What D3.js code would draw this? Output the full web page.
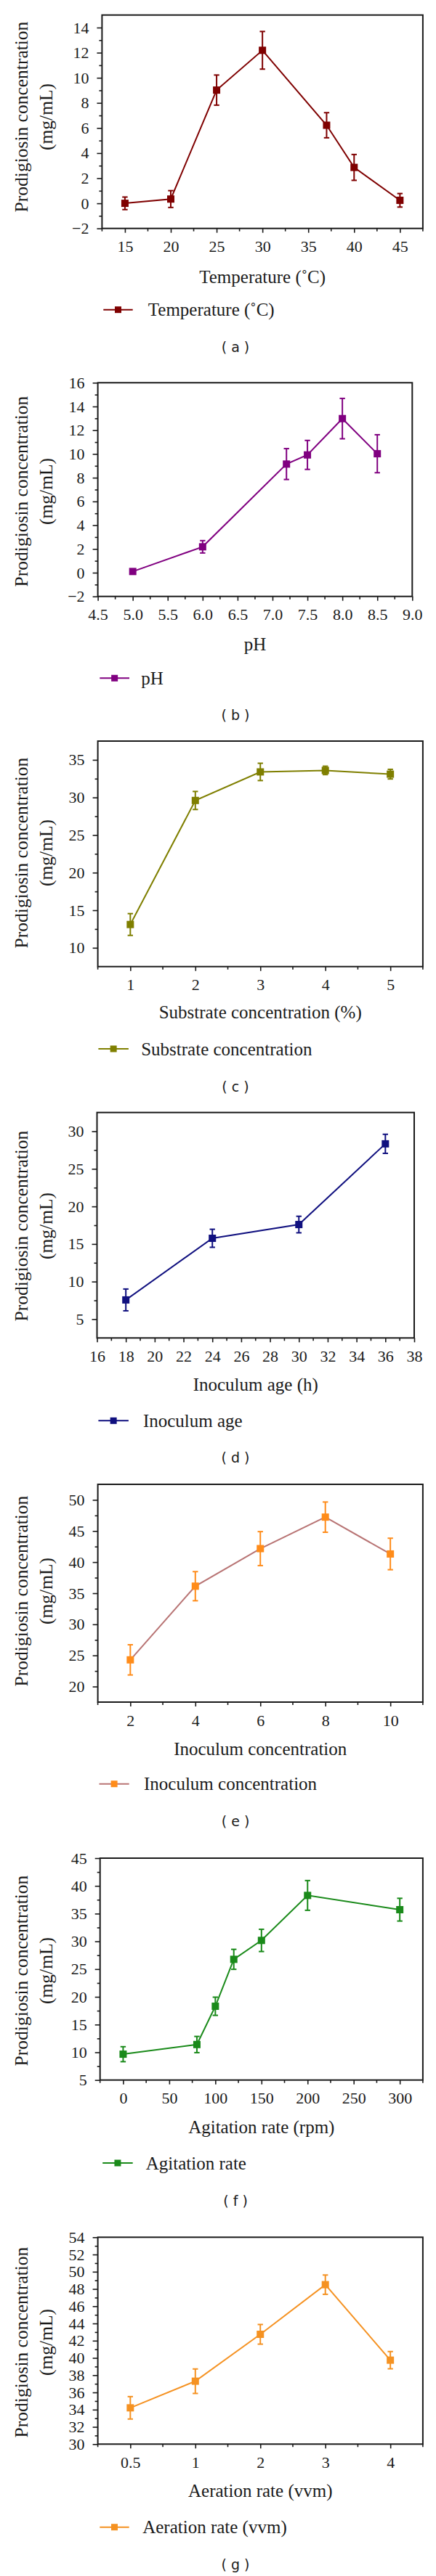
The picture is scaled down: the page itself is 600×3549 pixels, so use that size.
<!DOCTYPE html>
<html><head><meta charset="utf-8">
<script src="https://cdn.jsdelivr.net/npm/d3@7"></script>
<style>
body{margin:0;background:#fff}
svg text{font-family:"Liberation Serif","Times New Roman",serif;fill:#1a1a1a}
</style>
</head><body>
<svg id="c" width="600" height="3549"></svg>
<script>
// ---------------- DATA ----------------
// (a) Temperature
const tempX = [15, 20, 25, 30, 37, 40, 45];
const tempY = [0.0, 0.34, 9.02, 12.19, 6.22, 2.86, 0.24];
const tempErr = [0.5, 0.67, 1.2, 1.5, 1.0, 1.03, 0.54];
const tempXTicks = [15, 20, 25, 30, 35, 40, 45];
const tempYTicks = [-2, 0, 2, 4, 6, 8, 10, 12, 14];
// (b) pH
const phX = [5.0, 6.0, 7.2, 7.5, 8.0, 8.5];
const phY = [0.1, 2.18, 9.15, 9.92, 12.98, 10.02];
const phErr = [0, 0.52, 1.3, 1.22, 1.7, 1.6];
const phXTicks = [4.5, 5.0, 5.5, 6.0, 6.5, 7.0, 7.5, 8.0, 8.5, 9.0];
const phYTicks = [-2, 0, 2, 4, 6, 8, 10, 12, 14, 16];
// (c) Substrate concentration
const subX = [1, 2, 3, 4, 5];
const subY = [13.1, 29.6, 33.4, 33.6, 33.1];
const subErr = [1.45, 1.2, 1.15, 0.56, 0.64];
const subXTicks = [1, 2, 3, 4, 5];
const subYTicks = [10, 15, 20, 25, 30, 35];
// (d) Inoculum age
const ageX = [18, 24, 30, 36];
const ageY = [7.56, 15.76, 17.59, 28.33];
const ageErr = [1.45, 1.2, 1.1, 1.27];
const ageXTicks = [16, 18, 20, 22, 24, 26, 28, 30, 32, 34, 36, 38];
const ageYTicks = [5, 10, 15, 20, 25, 30];
// (e) Inoculum concentration
const inocX = [2, 4, 6, 8, 10];
const inocY = [24.29, 36.13, 42.17, 47.23, 41.31];
const inocErr = [2.43, 2.34, 2.73, 2.43, 2.53];
const inocXTicks = [2, 4, 6, 8, 10];
const inocYTicks = [20, 25, 30, 35, 40, 45, 50];
// (f) Agitation rate
const agiX = [0, 80, 100, 120, 150, 200, 300];
const agiY = [9.66, 11.4, 18.3, 26.76, 30.17, 38.28, 35.71];
const agiErr = [1.35, 1.46, 1.64, 1.8, 2.0, 2.68, 2.05];
const agiXTicks = [0, 50, 100, 150, 200, 250, 300];
const agiYTicks = [5, 10, 15, 20, 25, 30, 35, 40, 45];
// (g) Aeration rate (categorical)
const aerCategories = ["0.5", "1", "2", "3", "4"];
const aerY = [34.21, 37.3, 42.74, 48.5, 39.74];
const aerErr = [1.3, 1.42, 1.14, 1.12, 1.0];
const aerYTicks = [30, 32, 34, 36, 38, 40, 42, 44, 46, 48, 50, 52, 54];

// ---------------- LAYOUT ----------------
const panels = [
  {x: tempX, y: tempY, e: tempErr, xd: [12.5, 47.5], yd: [-2, 15], xt: tempXTicks, xstep: 5, yt: tempYTicks, ystep: 2,
   L: 140.4, R: 581.9, T: 20.7, B: 314.7, c: "#7f0000", lc: "#7f0000",
   xTitle: "Temperature (\u02DAC)", leg: "Temperature (\u02DAC)", tBase: 390, legY: 426.7, legL: 142.3, legR: 182.7, legT: 203.8,
   lab: "( a )", labY: 478.3, yMid: 161},
  {x: phX, y: phY, e: phErr, xd: [4.5, 9.0], yd: [-2, 16], xt: phXTicks, xstep: 0.5, yt: phYTicks, ystep: 2, fmt: d3.format(".1f"),
   L: 134.6, R: 567.3, T: 527.3, B: 821.7, c: "#800080", lc: "#800080",
   xTitle: "pH", leg: "pH", tBase: 896, legY: 934.3, legL: 137.3, legR: 178, legT: 194.2,
   lab: "( b )", labY: 985, yMid: 677},
  {x: subX, y: subY, e: subErr, xd: [0.5, 5.5], yd: [7.5, 37.5], xt: subXTicks, xstep: 1, yt: subYTicks, ystep: 5,
   L: 134.6, R: 581.9, T: 1021, B: 1331.7, c: "#7f7f00", lc: "#7f7f00",
   xTitle: "Substrate concentration (%)", leg: "Substrate concentration", tBase: 1403, legY: 1445, legL: 135.4, legR: 176.9, legT: 194.2,
   lab: "( c )", labY: 1496.7, yMid: 1175},
  {x: ageX, y: ageY, e: ageErr, xd: [16, 38], yd: [2.5, 32.5], xt: ageXTicks, xstep: 2, yt: ageYTicks, ystep: 5,
   L: 133.5, R: 570, T: 1532.7, B: 1843.3, c: "#10107f", lc: "#10107f",
   xTitle: "Inoculum age (h)", leg: "Inoculum age", tBase: 1916, legY: 1957.3, legL: 135.4, legR: 176.9, legT: 196.9,
   lab: "( d )", labY: 2008.3, yMid: 1689},
  {x: inocX, y: inocY, e: inocErr, xd: [1, 11], yd: [17.5, 52.5], xt: inocXTicks, xstep: 2, yt: inocYTicks, ystep: 5,
   L: 134.6, R: 581.9, T: 2045, B: 2345, c: "#ff8c1a", lc: "#b87474",
   xTitle: "Inoculum concentration", leg: "Inoculum concentration", tBase: 2418, legY: 2457.7, legL: 136.5, legR: 177.7, legT: 198,
   lab: "( e )", labY: 2509.3, yMid: 2192},
  {x: agiX, y: agiY, e: agiErr, xd: [-25, 325], yd: [5, 45], xt: agiXTicks, xstep: 50, yt: agiYTicks, ystep: 5,
   L: 137.7, R: 581.9, T: 2560, B: 2865.7, c: "#1a8a1a", lc: "#1a8a1a",
   xTitle: "Agitation rate (rpm)", leg: "Agitation rate", tBase: 2939, legY: 2980, legL: 141.2, legR: 182.7, legT: 200.8,
   lab: "( f )", labY: 3031.7, yMid: 2715},
  {cats: aerCategories, y: aerY, e: aerErr, yd: [30, 54], yt: aerYTicks, ystep: 2,
   L: 134.6, R: 581.9, T: 3082.3, B: 3367.3, c: "#f59222", lc: "#f59222",
   xTitle: "Aeration rate (vvm)", leg: "Aeration rate (vvm)", tBase: 3440, legY: 3481.7, legL: 137.3, legR: 177.7, legT: 196.2,
   lab: "( g )", labY: 3533, yMid: 3227}
];

const svg = d3.select("#c");
const AX = "#1a1a1a";

panels.forEach(p => {
  const g = svg.append("g");
  const y = d3.scaleLinear().domain(p.yd).range([p.B, p.T]);
  let xPos, x, xMinor, xAxis;
  const pts = p.y.map((v, i) => ({v, e: p.e[i], i}));
  if (p.cats) {
    x = d3.scalePoint().domain(p.cats).range([p.L, p.R]).padding(0.5);
    xPos = d => x(p.cats[d.i]);
    const step = x.step();
    xMinor = d3.range(p.cats.length + 1).map(k => p.L + k * step);
    xAxis = d3.axisBottom(x).tickSize(6).tickPadding(11);
  } else {
    x = d3.scaleLinear().domain(p.xd).range([p.L, p.R]);
    xPos = d => x(p.x[d.i]);
    const mins = [];
    for (let v = p.xt[0] - p.xstep / 2; v <= p.xd[1] + 1e-9; v += p.xstep) if (v >= p.xd[0] - 1e-9) mins.push(v);
    xMinor = mins.map(v => x(v));
    xAxis = d3.axisBottom(x).tickValues(p.xt).tickSize(6).tickPadding(11);
    if (p.fmt) xAxis.tickFormat(p.fmt); else xAxis.tickFormat(d3.format("d"));
  }
  // y minor
  const yMin = [];
  for (let v = p.yt[0] + p.ystep / 2; v < p.yd[1] - 1e-9; v += p.ystep) yMin.push(v);

  // axes
  const ya = g.append("g").attr("transform", `translate(${p.L},0)`)
    .call(d3.axisLeft(y).tickValues(p.yt).tickSize(7).tickPadding(11).tickFormat(d3.format("d")));
  ya.select(".domain").remove();
  ya.selectAll("line").attr("stroke", AX).attr("stroke-width", 1.6);
  ya.selectAll("text").attr("font-size", 22).attr("font-family", null).style("fill", AX);
  const yb = g.append("g").attr("transform", `translate(${p.L},0)`)
    .call(d3.axisLeft(y).tickValues(yMin).tickSize(4).tickFormat(""));
  yb.select(".domain").remove();
  yb.selectAll("line").attr("stroke", AX).attr("stroke-width", 1.6);

  const xa = g.append("g").attr("transform", `translate(0,${p.B})`).call(xAxis);
  xa.select(".domain").remove();
  xa.selectAll("line").attr("stroke", AX).attr("stroke-width", 1.6);
  xa.selectAll("text").attr("font-size", 22).attr("font-family", null).style("fill", AX);
  g.append("g").selectAll("line").data(xMinor).join("line")
    .attr("x1", d => d).attr("x2", d => d).attr("y1", p.B).attr("y2", p.B + 4)
    .attr("stroke", AX).attr("stroke-width", 1.6);

  // frame
  g.append("rect").attr("x", p.L).attr("y", p.T).attr("width", p.R - p.L).attr("height", p.B - p.T)
    .attr("fill", "none").attr("stroke", AX).attr("stroke-width", 2);

  // series line
  g.append("path").datum(pts)
    .attr("d", d3.line().x(xPos).y(d => y(d.v)))
    .attr("fill", "none").attr("stroke", p.lc).attr("stroke-width", 2);

  // error bars
  const eb = g.append("g").attr("stroke", p.c).attr("stroke-width", 2).attr("fill", "none");
  pts.filter(d => d.e > 0).forEach(d => {
    const cx = xPos(d);
    eb.append("line").attr("x1", cx).attr("x2", cx).attr("y1", y(d.v - d.e)).attr("y2", y(d.v + d.e));
    eb.append("line").attr("x1", cx - 3.7).attr("x2", cx + 3.7).attr("y1", y(d.v - d.e)).attr("y2", y(d.v - d.e));
    eb.append("line").attr("x1", cx - 3.7).attr("x2", cx + 3.7).attr("y1", y(d.v + d.e)).attr("y2", y(d.v + d.e));
  });

  // markers
  g.append("g").selectAll("rect").data(pts).join("rect")
    .attr("x", d => xPos(d) - 5).attr("y", d => y(d.v) - 5)
    .attr("width", 10).attr("height", 10).attr("fill", p.c);

  // y title
  g.append("text").attr("transform", `translate(38,${p.yMid}) rotate(-90)`)
    .attr("text-anchor", "middle").attr("font-size", 25.5).text("Prodigiosin concentration");
  g.append("text").attr("transform", `translate(72,${p.yMid}) rotate(-90)`)
    .attr("text-anchor", "middle").attr("font-size", 25.5).text("(mg/mL)");

  // x title
  g.append("text").attr("x", (p.L + p.R) / 2).attr("y", p.tBase)
    .attr("text-anchor", "middle").attr("font-size", 25).text(p.xTitle);

  // legend
  g.append("line").attr("x1", p.legL).attr("x2", p.legR).attr("y1", p.legY).attr("y2", p.legY)
    .attr("stroke", p.lc).attr("stroke-width", 2);
  g.append("rect").attr("x", (p.legL + p.legR) / 2 - 4.5).attr("y", p.legY - 4.5)
    .attr("width", 9).attr("height", 9).attr("fill", p.c);
  g.append("text").attr("x", p.legT).attr("y", p.legY + 8.5).attr("font-size", 25).text(p.leg);

  // panel label
  g.append("text").attr("x", 324).attr("y", p.labY).attr("text-anchor", "middle")
    .attr("dominant-baseline", "central").attr("font-size", 19)
    .style("font-family", "'DejaVu Sans', sans-serif").attr("xml:space", "preserve").text(p.lab);
});
</script>
</body></html>
